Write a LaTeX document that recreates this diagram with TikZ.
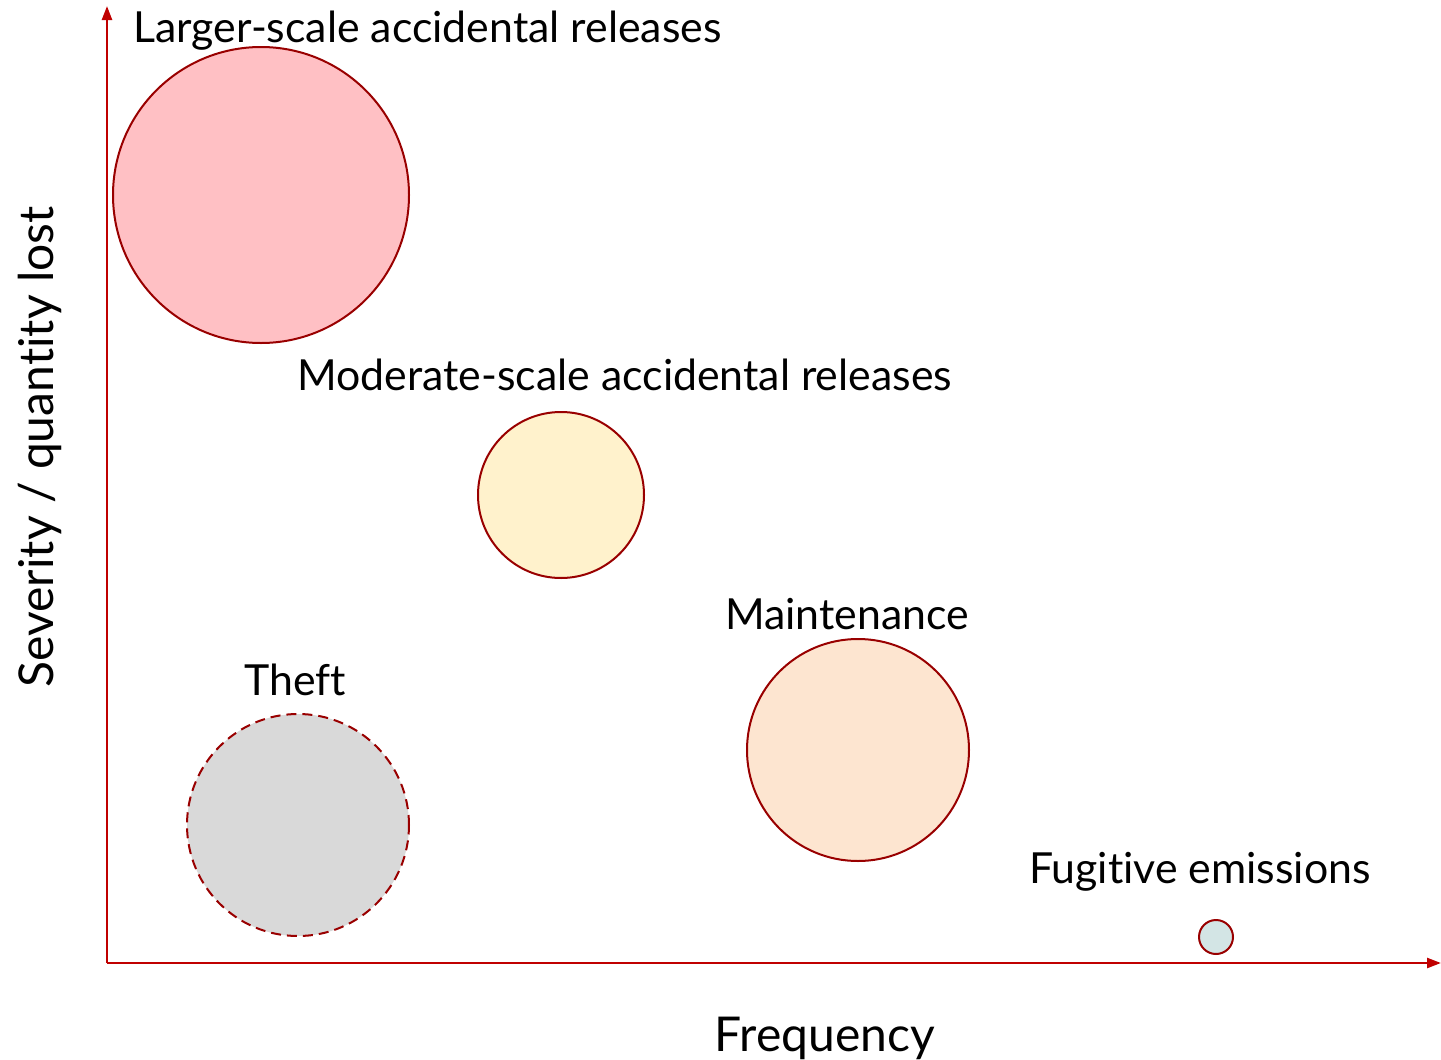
\documentclass[tikz,border=0pt]{standalone}
\usepackage{fontspec}
\setmainfont{Lato}[Ligatures=NoCommon]
\usetikzlibrary{arrows.meta}
\definecolor{axisred}{HTML}{C00000}
\definecolor{rimred}{HTML}{990000}
\definecolor{pinkfill}{HTML}{FFC0C4}
\definecolor{creamfill}{HTML}{FFF2CC}
\definecolor{peachfill}{HTML}{FDE5D0}
\definecolor{greyfill}{HTML}{D9D9D9}
\definecolor{tealfill}{HTML}{D3E5E5}
\begin{document}
\begin{tikzpicture}[
x=0.5pt, y=-0.5pt,
bubble/.style={circle, draw=rimred, line width=1pt, inner sep=0pt},
axis/.style={draw=axisred, line width=1.2pt, -{Triangle[length=7pt, width=5pt]}},
tag/.style={font=\fontsize{21.4pt}{25pt}\selectfont, inner sep=0pt},
axislabel/.style={font=\fontsize{24pt}{28pt}\selectfont, inner sep=0pt},
]
\useasboundingbox (0,0) rectangle (1441,1060);

% bubbles
\node (large) [bubble, fill=pinkfill, minimum size=148pt] at (261,195) {};
\node (moderate) [bubble, fill=creamfill, minimum size=83pt] at (561,495) {};
\node (maint) [bubble, fill=peachfill, minimum size=111pt] at (858,750) {};
\node (theft) [bubble, fill=greyfill, dashed, dash pattern=on 5pt off 3pt, minimum size=111pt] at (298,825) {};
\node (fugitive) [bubble, fill=tealfill, minimum size=17pt] at (1216,937) {};

% labels
\node (largelbl) [tag, anchor=west] at (133,31) {Larger-scale accidental releases};
\node (modlbl) [tag, anchor=west] at (297,375) {Moderate-scale accidental releases};
\node (maintlbl) [tag] at (847,614) {Maintenance};
\node (theftlbl) [tag] at (295,680) {Theft};
\node (fuglbl) [tag] at (1200,872) {Fugitive emissions};

% axes
\coordinate (origin) at (107,963);
\coordinate (ytop) at (107,6);
\coordinate (xend) at (1441,963);
\draw[axis] (origin) -- (ytop);
\draw[axis] (origin) -- (xend);
\node (xlbl) [axislabel] at (825,1038) {Frequency};
\node (ylbl) [axislabel, rotate=90] at (40,447) {Severity / quantity lost};
\end{tikzpicture}
\end{document}
